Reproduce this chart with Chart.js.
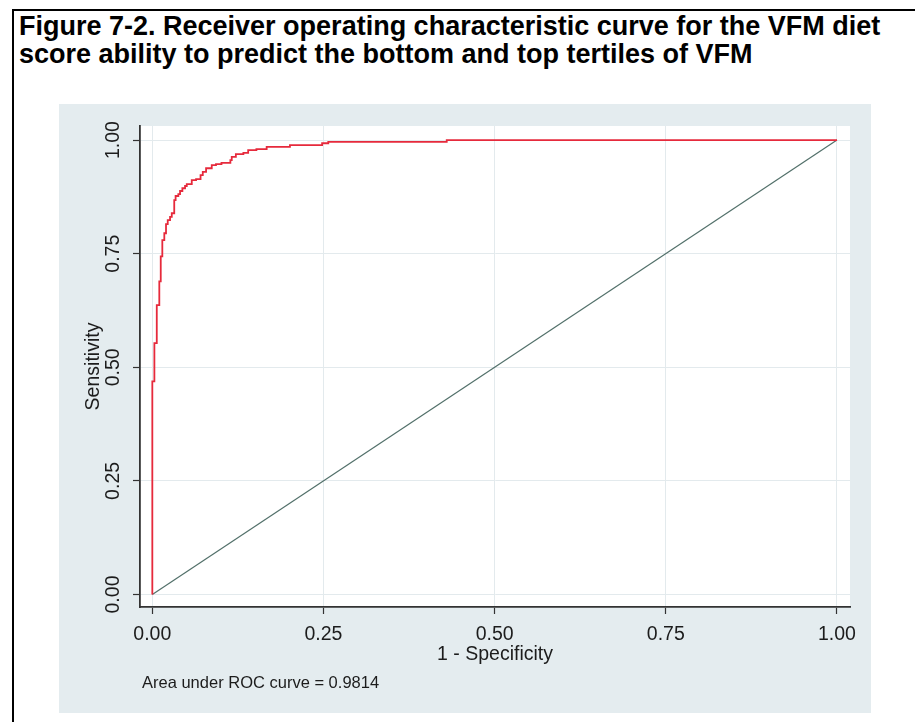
<!DOCTYPE html>
<html>
<head>
<meta charset="utf-8">
<script src="https://cdn.jsdelivr.net/npm/chart.js@4.4.1/dist/chart.umd.min.js"></script>
<style>
  html, body { margin: 0; padding: 0; background: #fff; width: 915px; height: 722px; overflow: hidden; }
  #frame { position: absolute; left: 12px; top: 9px; width: 901px; height: 760px;
           border-left: 2px solid #000; border-top: 2px solid #000; }
  #caption { position: absolute; left: 19px; top: 12px; color: #000; white-space: nowrap;
             font: bold 27px "Liberation Sans", Arial, sans-serif; line-height: 28px; }
  #panel { position: absolute; left: 59px; top: 104px; width: 812px; height: 609px; }
</style>
</head>
<body>
<div id="frame"></div>
<div id="caption">Figure 7-2. Receiver operating characteristic curve for the VFM diet<br>score ability to predict the bottom and top tertiles of VFM</div>
<div id="panel"><canvas id="roc" width="812" height="609"></canvas></div>
<script>
// ROC staircase: at each false-positive rate the sensitivity rises to the listed level
const stepFpr = [0, 0.003, 0.0065, 0.0102, 0.0123, 0.0146, 0.0175, 0.020, 0.0225, 0.0259,
                 0.0284, 0.032, 0.034, 0.038, 0.0405, 0.0439, 0.0478, 0.0503, 0.0576, 0.0639,
                 0.0697, 0.0708, 0.0737, 0.0785, 0.0868, 0.093, 0.101, 0.114, 0.116, 0.122,
                 0.133, 0.140, 0.152, 0.167, 0.201, 0.248, 0.257, 0.430, 1.0];
const stepTpr = [0.469, 0.553, 0.637, 0.689, 0.744, 0.780, 0.795, 0.815, 0.824, 0.831,
                 0.839, 0.868, 0.877, 0.881, 0.888, 0.894, 0.899, 0.903, 0.912, 0.914,
                 0.916, 0.923, 0.930, 0.938, 0.945, 0.947, 0.950, 0.956, 0.963, 0.969,
                 0.972, 0.978, 0.980, 0.985, 0.989, 0.993, 0.996, 1.0, 1.0];

// 45-degree reference line
const refFpr = [0, 1];
const refTpr = [0, 1];

const tickValues = [0, 0.25, 0.5, 0.75, 1];
const xTitle = '1 - Specificity';
const yTitle = 'Sensitivity';
const aucNote = 'Area under ROC curve = 0.9814';

// corner points of the staircase
const rocPoints = [{ x: 0, y: 0 }];
let level = 0;
stepFpr.forEach((f, i) => {
  rocPoints.push({ x: f, y: level });
  level = stepTpr[i];
  rocPoints.push({ x: f, y: level });
});
const refPoints = refFpr.map((f, i) => ({ x: f, y: refTpr[i] }));

const FONT = '"Liberation Sans", Arial, sans-serif';
const INK = '#1c1c1c';
const GRID = '#e3eaed';

const backdrop = {
  id: 'backdrop',
  beforeDraw(chart) {
    const { ctx, chartArea: a, width, height } = chart;
    ctx.save();
    ctx.fillStyle = '#e4ecef';
    ctx.fillRect(0, 0, width, height);
    ctx.fillStyle = '#ffffff';
    ctx.fillRect(a.left, a.top, a.right - a.left, a.bottom - a.top);
    ctx.restore();
  },
  afterDraw(chart) {
    const { ctx } = chart;
    ctx.save();
    ctx.fillStyle = INK;
    ctx.font = '16.5px ' + FONT;
    ctx.textBaseline = 'alphabetic';
    ctx.textAlign = 'left';
    ctx.fillText(aucNote, 83, 584);
    ctx.restore();
  }
};

const fixedTicks = scale => { scale.ticks = tickValues.map(v => ({ value: v })); };
const fmt = v => Number(v).toFixed(2);

new Chart(document.getElementById('roc'), {
  type: 'line',
  data: {
    datasets: [
      { data: rocPoints, borderColor: '#e62a3c', borderWidth: 1.8, pointRadius: 0, tension: 0, fill: false },
      { data: refPoints, borderColor: '#52706a', borderWidth: 1.2, pointRadius: 0, tension: 0, fill: false }
    ]
  },
  options: {
    responsive: false,
    animation: false,
    events: [],
    layout: { padding: { left: 0, top: 22, right: 21, bottom: 0 } },
    plugins: { legend: { display: false }, tooltip: { enabled: false }, title: { display: false } },
    scales: {
      x: {
        type: 'linear', min: -0.018, max: 1.019,
        afterBuildTicks: fixedTicks,
        afterFit: s => { s.height = 106; },
        grid: { color: GRID, lineWidth: 1, tickColor: '#333', tickLength: 7, tickWidth: 1.2 },
        border: { color: '#333', width: 1.8 },
        ticks: { callback: fmt, color: INK, font: { family: FONT, size: 19.5 }, padding: 9, maxRotation: 0, autoSkip: false },
        title: { display: true, text: xTitle, color: INK, font: { family: FONT, size: 19.5 }, padding: { top: 0, bottom: 47 } }
      },
      y: {
        type: 'linear', min: -0.0275, max: 1.031,
        afterBuildTicks: fixedTicks,
        afterFit: s => { s.width = 81; },
        grid: { color: GRID, lineWidth: 1, tickColor: '#333', tickLength: 7, tickWidth: 1.2 },
        border: { color: '#333', width: 1.8 },
        ticks: { callback: fmt, color: INK, font: { family: FONT, size: 19.5 }, padding: 0,
                 minRotation: 90, maxRotation: 90, crossAlign: 'center', autoSkip: false },
        title: { display: true, text: yTitle, color: INK, font: { family: FONT, size: 19.5 }, padding: { top: 23, bottom: 0 } }
      }
    }
  },
  plugins: [backdrop]
});
</script>
</body>
</html>
